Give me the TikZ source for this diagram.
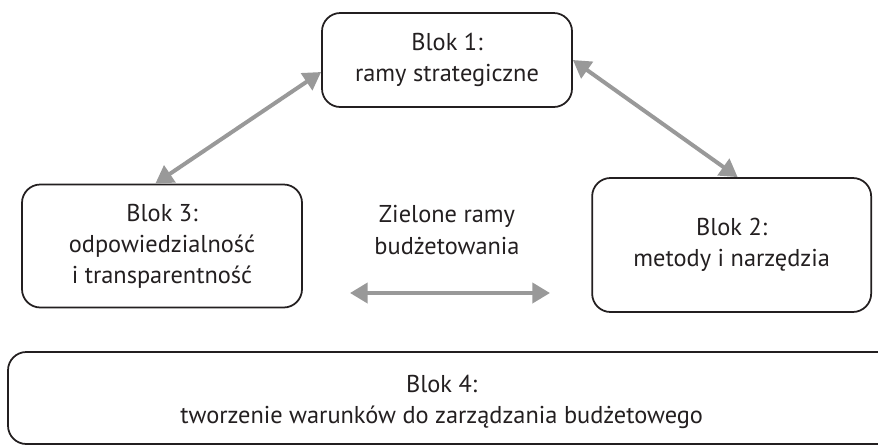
\documentclass[tikz,border=0pt]{standalone}
\usepackage{fontspec}
\setmainfont{PT Sans}
\definecolor{blkline}{RGB}{35,31,32}
\definecolor{arrgray}{RGB}{153,153,153}
\usetikzlibrary{arrows.meta,positioning}
\tikzset{
  blok/.style={rectangle,rounded corners=0.55cm,draw=blkline,line width=1.5pt,
               fill=white,text=blkline,align=center,
               font=\fontsize{20.8}{26.5}\selectfont,inner sep=0pt},
  bloktxt/.style={align=center,text=blkline,
                  font=\fontsize{20.8}{26.5}\selectfont},
  arr/.style={{Triangle[length=15pt,width=17pt]}-{Triangle[length=15pt,width=17pt]},
              line width=3.4pt,draw=#1},
  arr/.default=arrgray,
}
\begin{document}
\begin{tikzpicture}
  \useasboundingbox (0,0) rectangle (26.34,-13.38);
  \node[blok,minimum width=7.5cm,minimum height=2.82cm]
    (b1) at (13.41,-1.8) {Blok 1:\\ramy strategiczne};
  \node[blok,minimum width=8.4cm,minimum height=3.69cm]
    (b3) at (4.86,-7.38) {Blok 3:\\odpowiedzialność\\i transparentność};
  \node[blok,minimum width=8.37cm,minimum height=4.02cm]
    (b2) at (21.95,-7.35) {Blok 2:\\metody i narzędzia};
  % box runs past the right border
  \node[blok,minimum width=27cm,minimum height=2.76cm]
    (b4) at (13.74,-11.94) {};
  \node[bloktxt] (b4t) at (13.25,-12.05)
    {Blok 4:\\tworzenie warunków do zarządzania budżetowego};
  \node[bloktxt] (zr) at (13.41,-6.9) {Zielone ramy\\budżetowania};
  \coordinate (hl) at (10.5,-8.79);
  \coordinate (hr) at (16.5,-8.79);
  \draw[arr] ([yshift=-0.36cm]b1.west) -- ([xshift=-0.2cm]b3.north);
  \draw[arr] (b1.east) -- ([xshift=0.18cm]b2.north);
  \draw[arr] (hl) -- (hr);
\end{tikzpicture}
\end{document}
